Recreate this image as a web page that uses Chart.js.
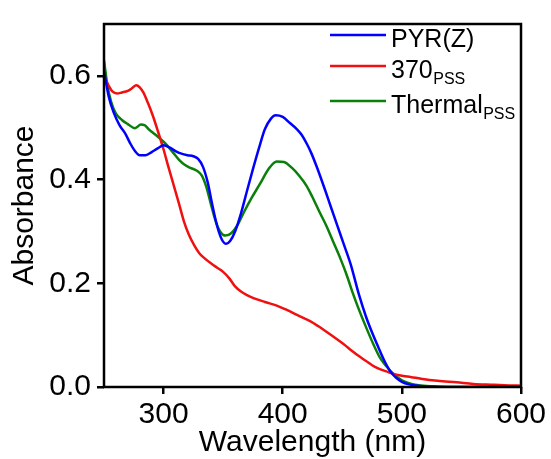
<!DOCTYPE html>
<html>
<head>
<meta charset="utf-8">
<script src="https://cdn.jsdelivr.net/npm/chart.js@4.4.1/dist/chart.umd.min.js"></script>
<style>
  body { margin: 0; background: #fff; }
  #wrap { width: 551px; height: 459px; }
</style>
</head>
<body>
<div id="wrap"><canvas id="uvChart" width="551" height="459"></canvas></div>
<script>
// wavelength (nm) / absorbance
const pyrWl = [250, 254, 258, 263, 268, 272, 276, 280, 285, 290, 295, 300, 305, 310, 315, 320, 325, 329, 333, 337, 341, 345, 349, 352.5, 356, 360, 365, 370, 375, 380, 385, 390, 394, 400, 406, 412, 416, 420, 424, 428, 432, 436, 440, 445.7, 451, 457, 464, 470, 475, 480, 485, 490, 495, 500, 506, 515, 525, 540, 600];
const pyrAbs = [0.61, 0.56, 0.53, 0.505, 0.488, 0.47, 0.455, 0.447, 0.447, 0.453, 0.46, 0.466, 0.462, 0.455, 0.45, 0.447, 0.445, 0.44, 0.425, 0.395, 0.35, 0.31, 0.284, 0.276, 0.282, 0.3, 0.335, 0.378, 0.42, 0.46, 0.497, 0.517, 0.524, 0.521, 0.509, 0.497, 0.486, 0.47, 0.451, 0.428, 0.403, 0.377, 0.35, 0.312, 0.277, 0.237, 0.178, 0.135, 0.105, 0.078, 0.052, 0.031, 0.018, 0.01, 0.005, 0.002, 0.0005, 0, 0];

const pssWl = [250, 253, 257, 261, 265, 270, 274, 277, 280, 283, 287, 291, 295, 300, 304, 308, 313, 317, 321, 326, 330, 334, 340, 345, 350, 355, 360, 365, 370, 376, 385, 395, 403, 412, 423, 430, 437, 445, 451, 458, 463, 470, 475, 481, 487, 493, 499, 508, 516, 530, 546, 560, 575, 590, 600];
const pssAbs = [0.6, 0.585, 0.57, 0.566, 0.568, 0.571, 0.577, 0.582, 0.578, 0.568, 0.547, 0.523, 0.495, 0.458, 0.425, 0.393, 0.353, 0.32, 0.295, 0.272, 0.258, 0.249, 0.238, 0.23, 0.222, 0.21, 0.194, 0.184, 0.177, 0.171, 0.164, 0.157, 0.149, 0.139, 0.127, 0.117, 0.106, 0.093, 0.083, 0.07, 0.061, 0.05, 0.042, 0.035, 0.03, 0.025, 0.022, 0.019, 0.016, 0.012, 0.009, 0.006, 0.0044, 0.003, 0.0025];

const thermWl = [250, 253, 256, 260, 265, 270, 276, 281, 284, 288, 293, 298, 303, 308, 313, 318, 323, 328, 332, 336, 340, 344, 348, 352, 357, 362, 367, 374, 381, 388, 395, 401, 408, 414, 420, 425, 431, 436.8, 442.2, 448, 453.4, 459, 463, 470, 476, 482, 487, 493, 500, 508, 516, 530, 545, 600];
const thermAbs = [0.63, 0.58, 0.55, 0.527, 0.515, 0.507, 0.499, 0.506, 0.505, 0.496, 0.487, 0.477, 0.466, 0.452, 0.438, 0.428, 0.422, 0.417, 0.408, 0.385, 0.35, 0.318, 0.298, 0.292, 0.297, 0.312, 0.335, 0.365, 0.392, 0.42, 0.435, 0.434, 0.422, 0.407, 0.388, 0.366, 0.337, 0.31, 0.281, 0.25, 0.218, 0.18, 0.155, 0.115, 0.083, 0.055, 0.04, 0.025, 0.013, 0.006, 0.003, 0.001, 0, 0];

const seriesNames = ['PYR(Z)', '370', 'Thermal'];
const seriesSubs = ['', 'PSS', 'PSS'];
const seriesColors = ['#0000ff', '#f01010', '#0a800a'];

const xTicks = [300, 400, 500, 600];
const yTicks = [0, 0.2, 0.4, 0.6];

const FONT = '"Liberation Sans", Arial, sans-serif';

function toPoints(xs, ys) {
    return xs.map((x, i) => ({x: x, y: ys[i]}));
}

// frame round the plot area
const framePlugin = {
    id: 'frame',
    afterDatasetsDraw(chart) {
        const a = chart.chartArea;
        const ctx = chart.ctx;
        ctx.save();
        ctx.strokeStyle = '#000';
        ctx.lineWidth = 2.5;
        ctx.strokeRect(a.left, a.top, a.right - a.left, a.bottom - a.top);
        ctx.restore();
    }
};

// legend with subscripts, drawn by hand
const legendRows = [35, 66, 101];
const subLegendPlugin = {
    id: 'subLegend',
    afterDraw(chart) {
        const ctx = chart.ctx;
        ctx.save();
        chart.data.datasets.forEach((ds, i) => {
            const y = legendRows[i];
            ctx.strokeStyle = ds.borderColor;
            ctx.lineWidth = 2.5;
            ctx.beginPath();
            ctx.moveTo(330, y);
            ctx.lineTo(386, y);
            ctx.stroke();

            ctx.fillStyle = '#000';
            ctx.textBaseline = 'alphabetic';
            ctx.font = '25px ' + FONT;
            const base = y + 11.5;
            ctx.fillText(seriesNames[i], 391, base);
            if (seriesSubs[i]) {
                const w = ctx.measureText(seriesNames[i]).width;
                ctx.font = '16px ' + FONT;
                ctx.fillText(seriesSubs[i], 391 + w + 0.5, base + 6.5);
            }
        });
        ctx.restore();
    }
};

const sets = [
    toPoints(pyrWl, pyrAbs),
    toPoints(pssWl, pssAbs),
    toPoints(thermWl, thermAbs)
];

new Chart(document.getElementById('uvChart'), {
    type: 'line',
    data: {
        datasets: sets.map((pts, i) => ({
            label: seriesNames[i] + seriesSubs[i],
            data: pts,
            borderColor: seriesColors[i],
            borderWidth: 2.5,
            pointRadius: 0,
            fill: false,
            cubicInterpolationMode: 'monotone'
        }))
    },
    options: {
        responsive: false,
        animation: false,
        layout: { padding: { top: 15, right: 30, left: 0, bottom: 0 } },
        plugins: {
            legend: { display: false },
            tooltip: { enabled: false }
        },
        scales: {
            x: {
                type: 'linear',
                min: 250,
                max: 600,
                afterBuildTicks: s => { s.ticks = xTicks.map(v => ({value: v})); },
                afterFit: s => { s.height = 72; },
                border: { display: false },
                grid: { drawOnChartArea: false, drawTicks: true, tickLength: 7, color: '#000', lineWidth: 2.5 },
                ticks: { color: '#000', padding: 3, maxRotation: 0, font: { family: FONT, size: 30 } },
                title: { display: true, text: 'Wavelength (nm)', color: '#000', padding: { top: 0, bottom: 1 }, font: { family: FONT, size: 30, lineHeight: 1 } }
            },
            y: {
                type: 'linear',
                min: 0,
                max: 0.7,
                afterBuildTicks: s => { s.ticks = yTicks.map(v => ({value: v})); },
                afterFit: s => { s.width = 104; },
                border: { display: false },
                grid: { drawOnChartArea: false, drawTicks: true, tickLength: 7, color: '#000', lineWidth: 2.5 },
                ticks: { color: '#000', padding: 6, font: { family: FONT, size: 30 }, callback: v => v.toFixed(1) },
                title: { display: true, text: 'Absorbance', color: '#000', padding: { top: 10, bottom: 0 }, font: { family: FONT, size: 30, lineHeight: 1 } }
            }
        }
    },
    plugins: [framePlugin, subLegendPlugin]
});
</script>
</body>
</html>
